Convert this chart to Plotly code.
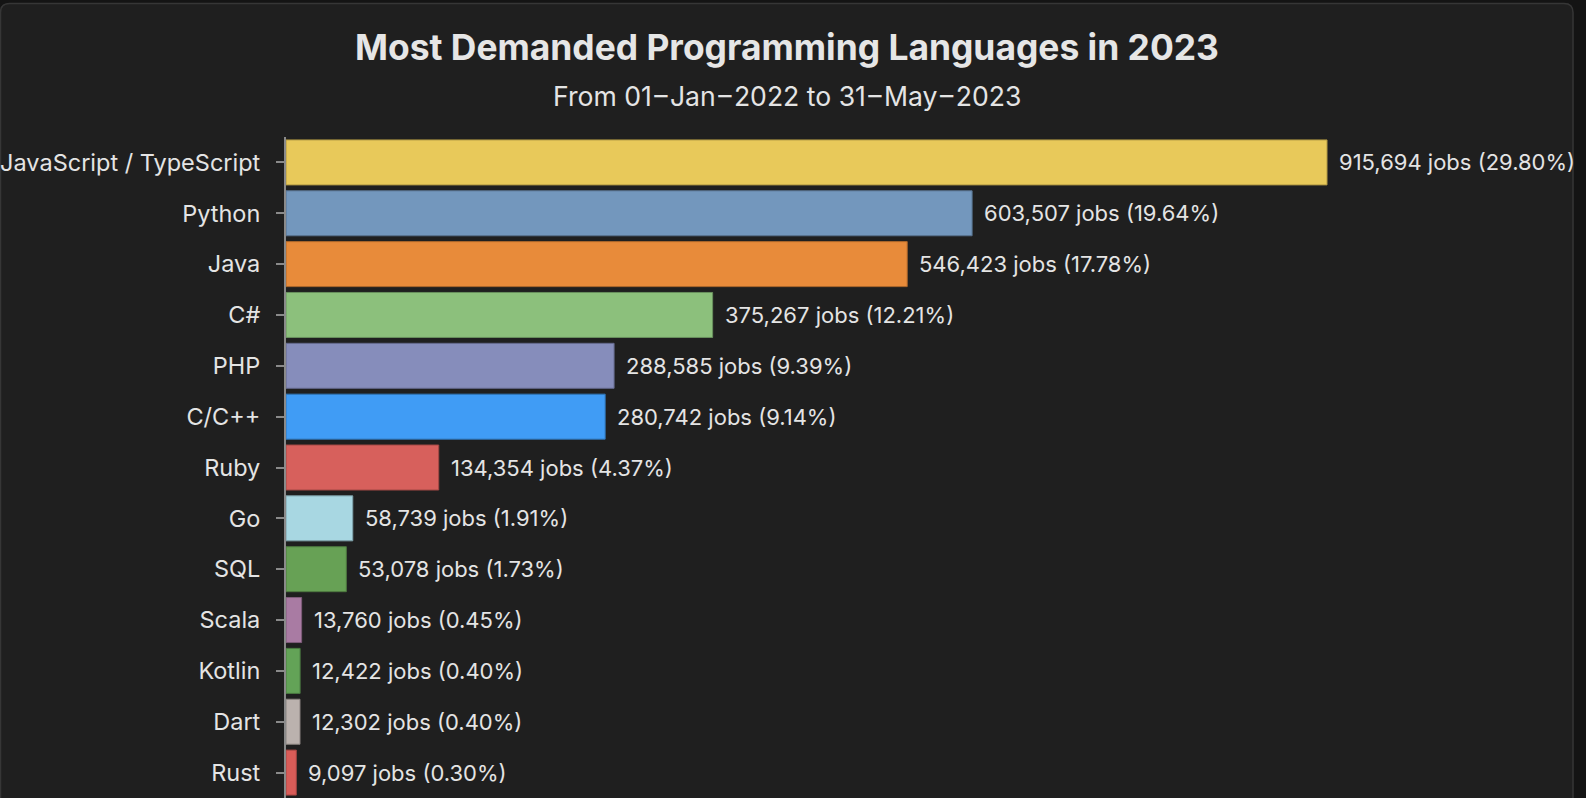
import plotly.graph_objects as go

languages = ["JavaScript / TypeScript", "Python", "Java", "C#", "PHP", "C/C++", "Ruby",
             "Go", "SQL", "Scala", "Kotlin", "Dart", "Rust"]
jobs = [915694, 603507, 546423, 375267, 288585, 280742, 134354,
        58739, 53078, 13760, 12422, 12302, 9097]
shares = [29.80, 19.64, 17.78, 12.21, 9.39, 9.14, 4.37,
          1.91, 1.73, 0.45, 0.40, 0.40, 0.30]
colors = ["#e8c95a", "#7397bd", "#e88b3a", "#8cc07c", "#868dbb", "#409cf5", "#d7605c",
          "#a8d7e2", "#67a155", "#a97ba3", "#63a357", "#bbb2ae", "#d95c58"]

title_text = "Most Demanded Programming Languages in 2023"
subtitle_text = "From 01\u200a\u2013\u200aJan\u200a\u2013\u200a2022 to 31\u200a\u2013\u200aMay\u200a\u2013\u200a2023"


def darker(hex_color, f=0.75):
    h = hex_color.lstrip("#")
    r, g, b = (int(h[i:i + 2], 16) for i in (0, 2, 4))
    return "#%02x%02x%02x" % (int(r * f), int(g * f), int(b * f))


W, H = 1586, 798
L, R, T, B = 286, 26, 137, 0
plot_w = W - L - R
FONT = "Inter, Roboto, 'Liberation Sans', sans-serif"
TEXT = "#e4e4e4"

labels = [f"{j:,} jobs ({s:.2f}%)" for j, s in zip(jobs, shares)]

fig = go.Figure()
fig.add_trace(go.Bar(
    x=jobs, y=languages, orientation="h",
    marker=dict(color=colors, line=dict(color=[darker(c) for c in colors], width=1)),
    hoverinfo="skip",
))

annotations = []
for lang, j, lab in zip(languages, jobs, labels):
    annotations.append(dict(
        x=j, y=lang, xref="x", yref="y", text=lab, showarrow=False,
        xanchor="left", yanchor="middle", xshift=10,
        font=dict(family=FONT, size=22, color=TEXT),
    ))

# title & subtitle (centered on card)
card_left, card_right = 0.5, 1573
cx = ((card_left + card_right) / 2 - L) / plot_w
annotations.append(dict(
    x=cx, y=1, xref="paper", yref="paper", yshift=66, xanchor="center", yanchor="bottom",
    text="<b>" + title_text + "</b>", showarrow=False,
    font=dict(family=FONT, size=35.4, color="#e6e6e6"),
))
annotations.append(dict(
    x=cx, y=1, xref="paper", yref="paper", yshift=23, xanchor="center", yanchor="bottom",
    text=subtitle_text, showarrow=False,
    font=dict(family=FONT, size=26.6, color=TEXT),
))

# card background with rounded corners, in pixels relative to plot area
x0 = card_left - L
x1 = card_right - L
ytop = T - 3.5
ybot = -(H - T) - 40
r = 9
path = (f"M {x0},{ybot} L {x0},{ytop - r} Q {x0},{ytop} {x0 + r},{ytop} "
        f"L {x1 - r},{ytop} Q {x1},{ytop} {x1},{ytop - r} L {x1},{ybot} Z")
shapes = [dict(
    type="path", path=path, xref="paper", yref="paper",
    xsizemode="pixel", ysizemode="pixel", xanchor=0, yanchor=1,
    fillcolor="#1f1f1f", line=dict(color="#363636", width=1.5), layer="below",
)]

fig.update_layout(
    width=W, height=H,
    margin=dict(l=L, r=R, t=T, b=B, pad=0, autoexpand=False),
    paper_bgcolor="#141414", plot_bgcolor="rgba(0,0,0,0)",
    showlegend=False, bargap=0.115,
    annotations=annotations, shapes=shapes,
    font=dict(family=FONT, color=TEXT),
    xaxis=dict(range=[0, max(jobs) * 1.2238], visible=False, fixedrange=True,
               automargin=False),
    yaxis=dict(
        autorange=False, range=[len(languages) - 0.5, -0.5],
        automargin=False,
        showline=True, linecolor="#8a8a8a", linewidth=2,
        ticks="outside", ticklen=8, tickwidth=2, tickcolor="#8a8a8a",
        ticklabelstandoff=11,
        tickfont=dict(family=FONT, size=23.5, color=TEXT),
        showgrid=False, zeroline=False, fixedrange=True,
    ),
)

fig.write_html("out.html", config={"displayModeBar": False})
